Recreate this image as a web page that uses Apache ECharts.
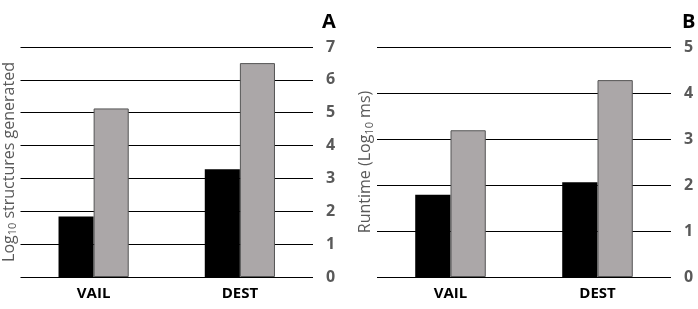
<!DOCTYPE html>
<html>
<head>
<meta charset="utf-8">
<script src="https://cdn.jsdelivr.net/npm/echarts@6/dist/echarts.min.js"></script>
<style>
  html, body { margin: 0; padding: 0; background: #fff; }
  #chart { width: 698px; height: 309px; }
</style>
</head>
<body>
<div id="chart"></div>
<script>
// Data
const categories = ['VAIL', 'DEST'];
const structuresBlack = [1.84, 3.28];
const structuresGrey = [5.13, 6.51];
const runtimeBlack = [1.79, 2.06];
const runtimeGrey = [3.19, 4.28];
const structuresTicks = [0, 7];
const runtimeTicks = [0, 5];

const FONT = 'Open Sans';
const labelGrey = '#595959';

const chart = echarts.init(document.getElementById('chart'));

function valueAxis(gridIndex, range) {
    return {
        type: 'value',
        gridIndex: gridIndex,
        position: 'right',
        min: range[0],
        max: range[1],
        interval: 1,
        axisLine: { show: false },
        axisTick: { show: false },
        axisLabel: {
            margin: 13,
            color: labelGrey,
            fontSize: 16,
            fontWeight: 'bold',
            fontFamily: FONT,
        },
        splitLine: { lineStyle: { color: '#000', width: 1 } },
    };
}

function nameAxis(gridIndex, range, name, gap) {
    return {
        type: 'value',
        gridIndex: gridIndex,
        position: 'left',
        min: range[0],
        max: range[1],
        interval: 1,
        axisLine: { show: false },
        axisTick: { show: false },
        axisLabel: { show: false },
        splitLine: { show: false },
        name: name,
        nameLocation: 'middle',
        nameGap: gap,
        nameTextStyle: {
            rich: {
                a: { fontSize: 16, color: labelGrey, fontFamily: FONT, fontWeight: 500 },
                s: { fontSize: 11, color: labelGrey, fontFamily: FONT, verticalAlign: 'bottom', padding: [8, 0, 0, 0] },
            },
        },
    };
}

function catAxis(gridIndex) {
    return {
        type: 'category',
        gridIndex: gridIndex,
        data: categories,
        axisLine: { show: false },
        axisTick: { show: false },
        axisLabel: {
            margin: 9,
            color: '#000',
            fontSize: 15,
            fontWeight: 'bold',
            fontFamily: FONT,
        },
    };
}

function barSeries(xi, yi, values, fill, border) {
    return {
        type: 'bar',
        xAxisIndex: xi,
        yAxisIndex: yi,
        data: values,
        barGap: '0%',
        barCategoryGap: '52%',
        itemStyle: { color: fill, borderColor: border, borderWidth: border ? 1 : 0 },
    };
}

const option = {
    animation: false,
    backgroundColor: '#fff',
    title: [
        { text: 'A', left: 317, top: 7, textStyle: { fontSize: 20, fontWeight: 'bold', color: '#000', fontFamily: FONT } },
        { text: 'B', left: 677, top: 7, textStyle: { fontSize: 20, fontWeight: 'bold', color: '#000', fontFamily: FONT } },
    ],
    grid: [
        { left: 18, top: 47, width: 295, height: 230 },
        { left: 377, top: 47, width: 294, height: 230 },
    ],
    xAxis: [catAxis(0), catAxis(1)],
    yAxis: [
        valueAxis(0, structuresTicks),
        valueAxis(1, runtimeTicks),
        nameAxis(0, structuresTicks, '{a|Log}{s|10}{a| structures generated}', 2),
        nameAxis(1, runtimeTicks, '{a|Runtime (Log}{s|10}{a| ms)}', 2),
    ],
    series: [
        barSeries(0, 0, structuresBlack, '#000', null),
        barSeries(0, 0, structuresGrey, '#aba7a8', '#555'),
        barSeries(1, 1, runtimeBlack, '#000', null),
        barSeries(1, 1, runtimeGrey, '#aba7a8', '#555'),
    ],
};

chart.setOption(option);
</script>
</body>
</html>
